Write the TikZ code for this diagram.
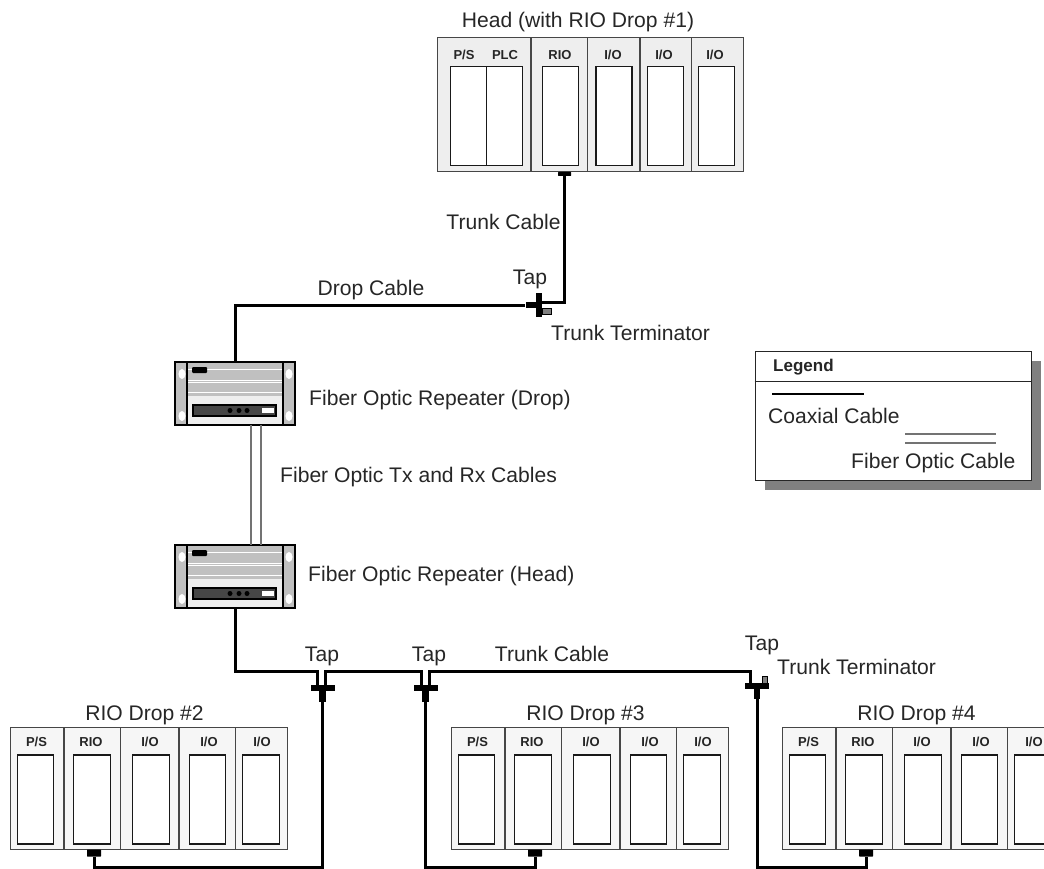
\documentclass[tikz,border=0pt]{standalone}
\usepackage{fontspec}
\setmainfont{Liberation Sans}
\usepackage{xcolor}
\definecolor{headgray}{RGB}{238, 238, 238}
\definecolor{dropgray}{RGB}{246, 246, 246}
\definecolor{rackedge}{RGB}{70, 70, 70}
\definecolor{repeatergray}{RGB}{192, 192, 192}
\definecolor{panelgray}{RGB}{70, 70, 70}
\definecolor{shadowgray}{RGB}{128, 128, 128}

% one fiber optic repeater, #1 = name, #2 #3 = centre
\newcommand{\repeaterbox}[3]{
    \node[repbody] (#1) at (#2, #3) {};
    \begin{scope}[shift={(#2, #3)}]
    \fill[repeatergray] (-60, -31.5) rectangle (60, 2.5);
    \fill[repeatergray] (-60, 2.5) rectangle (-48, 31.5);
    \fill[repeatergray] (48, 2.5) rectangle (60, 31.5);
    \draw[white, line width=0.9pt] (-48, -24.5) -- (48, -24.5);
    \draw[white, line width=0.9pt] (-48, -13.5) -- (48, -13.5);
    \draw[white, line width=0.9pt] (-48, -11.5) -- (48, -11.5);
    \draw[white, line width=0.9pt] (-48, -1.5) -- (48, -1.5);
    \fill[white] (-53, -19.5) ellipse (3.5 and 5);
    \fill[white] (-53, 22.5) ellipse (3.5 and 5);
    \fill[white] (54, -19.5) ellipse (3.5 and 5);
    \fill[white] (54, 22.5) ellipse (3.5 and 5);
    \draw[black, line width=1.5pt] (-48, -31.5) -- (-48, 31.5);
    \draw[black, line width=1.5pt] (48, -31.5) -- (48, 31.5);
    \fill[black, rounded corners=1pt] (-43, -26.5) rectangle (-28, -20.5);
    \draw[black, fill=panelgray, line width=1.4pt] (-42, 11.5) rectangle (41, 22.5);
    \fill[black] (-5, 17) circle (2.5);
    \fill[black] (4, 17) circle (2.5);
    \fill[black] (12, 17) circle (2.5);
    \fill[white] (27, 14) rectangle (39, 19);
    \draw[black, line width=1.2pt] (-60, -31.5) rectangle (60, 31.5);
    \end{scope}
}

% one five slot drop rack, #1 = name, #2 = x shift, #3 = title
\newcommand{\droprack}[3]{
    \begin{scope}[xshift=#2pt]
    \node[rackbody, fill=dropgray, minimum width=277pt, minimum height=122pt] (#1) at (148.5, 788) {};
    \node[biglabel] (#1title) at (144.5, 713) {#3};
    \draw[rackline] (64, 727) -- (64, 849);
    \draw[rackline] (120.5, 727) -- (120.5, 849);
    \draw[rackline] (179, 727) -- (179, 849);
    \draw[rackline] (235.5, 727) -- (235.5, 849);
    \node[dropslot] (#1ps) at (35.5, 799.5) {};
    \node[dropslot] (#1rio) at (92, 799.5) {};
    \node[dropslot] (#1ioa) at (151, 799.5) {};
    \node[dropslot] (#1iob) at (207.5, 799.5) {};
    \node[dropslot] (#1ioc) at (261, 799.5) {};
    \node[slotlabel] at (36.5, 742) {P/S};
    \node[slotlabel] at (91, 742) {RIO};
    \node[slotlabel] at (150, 742) {I/O};
    \node[slotlabel] at (209, 742) {I/O};
    \node[slotlabel] at (262, 742) {I/O};
    \node[plug] (#1plug) at (94, 853) {};
    \end{scope}
}

\begin{document}
\begin{tikzpicture}[
        x=1pt, y=-1pt,
        biglabel/.style={inner sep=0pt, text height=15pt, text depth=0pt, font=\fontsize{21.1}{24}\selectfont, text=black!85},
        slotlabel/.style={inner sep=0pt, text height=9.5pt, text depth=0pt, font=\fontsize{13}{15}\selectfont\bfseries, text=black!85},
        rackbody/.style={rectangle, draw=rackedge, line width=1pt, inner sep=0pt},
        rackline/.style={rackedge, line width=1.3pt},
        headslot/.style={rectangle, draw=black!90, line width=1.3pt, fill=white, minimum width=36pt, minimum height=99.5pt, inner sep=0pt},
        dropslot/.style={rectangle, draw=black!90, line width=1.3pt, fill=white, minimum width=36.5pt, minimum height=89pt, inner sep=0pt},
        plug/.style={rectangle, fill=black, rounded corners=0.5pt, minimum width=14pt, minimum height=7pt, inner sep=0pt},
        tapbar/.style={rectangle, fill=black, inner sep=0pt},
        terminator/.style={rectangle, draw=black, fill=shadowgray, line width=0.8pt, inner sep=0pt},
        repbody/.style={rectangle, fill=headgray, minimum width=120pt, minimum height=63pt, inner sep=0pt},
        coax/.style={black, line width=3pt},
        fiber/.style={black!55, line width=1.5pt}
    ]
    \clip (0, 0) rectangle (1044, 869);

    % Head rack
    \node[rackbody, fill=headgray, minimum width=306pt, minimum height=134pt] (head) at (590, 105) {};
    \node[biglabel] (headtitle) at (578, 20.5) {Head (with RIO Drop \#1)};
    \draw[rackline] (531, 38) -- (531, 172);
    \draw[rackline] (587.5, 38) -- (587.5, 172);
    \draw[rackline] (640, 38) -- (640, 172);
    \draw[rackline] (691.5, 38) -- (691.5, 172);
    \node[headslot] (headps) at (468.5, 116) {};
    \node[headslot] (headplc) at (504.5, 116) {};
    \node[headslot] (headrio) at (560.5, 116) {};
    \node[headslot] (headioa) at (614, 116) {};
    \node[headslot] (headiob) at (665.5, 116) {};
    \node[headslot] (headioc) at (716.5, 116) {};
    \node[slotlabel] at (464, 54.5) {P/S};
    \node[slotlabel] at (505, 54.5) {PLC};
    \node[slotlabel] at (560, 54.5) {RIO};
    \node[slotlabel] at (613, 54.5) {I/O};
    \node[slotlabel] at (664, 54.5) {I/O};
    \node[slotlabel] at (715, 54.5) {I/O};
    \node[plug, minimum width=13pt, minimum height=4pt] (headplug) at (564.5, 174) {};

    % Drop racks
    \droprack{dropb}{0}{RIO Drop \#2}
    \droprack{dropc}{441}{RIO Drop \#3}
    \droprack{dropd}{772}{RIO Drop \#4}

    % Repeaters
    \repeaterbox{repdrop}{235}{393.5}
    \repeaterbox{rephead}{235}{576.5}

    % Taps
    \node[tapbar, minimum width=6pt, minimum height=24pt] (tapa) at (539, 305) {};
    \node[tapbar, minimum width=11pt, minimum height=6pt] (tapastub) at (531, 305) {};
    \node[terminator, minimum width=9pt, minimum height=6pt] (terma) at (546.5, 311) {};
    \node[tapbar, minimum width=24pt, minimum height=6pt] (tapb) at (323, 688) {};
    \node[tapbar, minimum width=7pt, minimum height=12pt] (tapbstem) at (322.5, 696) {};
    \node[tapbar, minimum width=24pt, minimum height=6pt] (tapc) at (425.5, 688) {};
    \node[tapbar, minimum width=7pt, minimum height=12pt] (tapcstem) at (425, 696) {};
    \node[tapbar, minimum width=24pt, minimum height=6pt] (tapd) at (756.5, 686) {};
    \node[tapbar, minimum width=6pt, minimum height=12pt] (tapdstem) at (757, 693) {};
    \node[terminator, minimum width=5.5pt, minimum height=7pt] (termd) at (765, 679.5) {};
    \coordinate (tapbl) at (317, 671);
    \coordinate (tapbr) at (325, 671);
    \coordinate (tapcl) at (421, 671);
    \coordinate (tapcr) at (429, 671);
    \coordinate (tapdl) at (750.5, 671);
    \coordinate (tapain) at (542, 302);
    \coordinate (fiberal) at (251, 425);
    \coordinate (fiberar) at (261, 425);
    \coordinate (bottom) at (0, 867);

    % Cables
    \draw[coax] (headplug.south) |- (tapain);
    \draw[coax] (tapastub.west) -| (repdrop.north);
    \draw[fiber] (fiberal) -- (fiberal |- rephead.north);
    \draw[fiber] (fiberar) -- (fiberar |- rephead.north);
    \draw[coax] (rephead.south) |- (tapbl) -- (tapbl |- tapb.north);
    \draw[coax] (tapb.north -| tapbr) -- (tapbr) -- (tapcl) -- (tapcl |- tapc.north);
    \draw[coax] (tapc.north -| tapcr) -- (tapcr) -- (tapdl) -- (tapdl |- tapd.north);
    \draw[coax] (tapbstem.south) -- (bottom -| tapbstem) -- (bottom -| dropbplug) -- (dropbplug.south);
    \draw[coax] (tapcstem.south) -- (bottom -| tapcstem) -- (bottom -| dropcplug) -- (dropcplug.south);
    \draw[coax] (tapdstem.south) -- (bottom -| tapdstem) -- (bottom -| dropdplug) -- (dropdplug.south);

    % Labels
    \node[biglabel] (trunkone) at (503.5, 222) {Trunk Cable};
    \node[biglabel] (tapalabel) at (530, 276.5) {Tap};
    \node[biglabel] (droplabel) at (371, 288) {Drop Cable};
    \node[biglabel, anchor=west] (termalabel) at (551, 333) {Trunk Terminator};
    \node[biglabel, anchor=west] (repdroplabel) at (309, 398) {Fiber Optic Repeater (Drop)};
    \node[biglabel, anchor=west] (fiberlabel) at (280, 475) {Fiber Optic Tx and Rx Cables};
    \node[biglabel, anchor=west] (repheadlabel) at (308, 574) {Fiber Optic Repeater (Head)};
    \node[biglabel] (tapblabel) at (322, 653.5) {Tap};
    \node[biglabel] (tapclabel) at (429, 653.5) {Tap};
    \node[biglabel] (trunktwo) at (552, 654) {Trunk Cable};
    \node[biglabel] (tapdlabel) at (762, 642.5) {Tap};
    \node[biglabel, anchor=west] (termdlabel) at (777, 666.5) {Trunk Terminator};

    % Legend
    \node[rectangle, fill=shadowgray, minimum width=276pt, minimum height=129pt, inner sep=0pt] (legendshadow) at (903, 425.5) {};
    \node[rectangle, draw=black!85, fill=white, line width=1pt, minimum width=276pt, minimum height=129pt, inner sep=0pt] (legend) at (893, 415.5) {};
    \draw[black!85, line width=1pt] (legend.west |- 0, 381) -- (legend.east |- 0, 381);
    \node[slotlabel, anchor=west, text height=12pt, font=\fontsize{17}{20}\selectfont\bfseries] (legendtitle) at (773, 365) {Legend};
    \node[biglabel, anchor=west] (coaxlabel) at (768, 416) {Coaxial Cable};
    \node[biglabel, anchor=west] (fiberkey) at (851, 461) {Fiber Optic Cable};
    \coordinate (coaxa) at (772, 394);
    \coordinate (coaxb) at (864, 394);
    \coordinate (fibera) at (905, 434);
    \coordinate (fiberb) at (996, 434);
    \coordinate (fiberc) at (905, 443);
    \coordinate (fiberd) at (996, 443);
    \draw[coax, line width=2.5pt] (coaxa) -- (coaxb);
    \draw[fiber] (fibera) -- (fiberb);
    \draw[fiber] (fiberc) -- (fiberd);
\end{tikzpicture}
\end{document}
